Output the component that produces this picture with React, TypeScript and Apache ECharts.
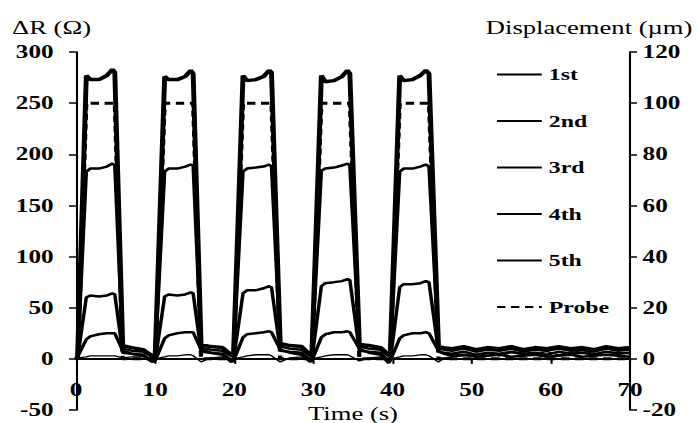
import React, { useEffect, useRef } from 'react';
import * as echarts from 'echarts';

// Time axis (s)
const T = [
  0, 0.2, 1.3, 1.8, 2.9, 3.9, 4.6, 4.9, 5.9, 7.0, 8.5, 9.6,
  10.0, 11.2, 11.7, 12.8, 13.8, 14.5, 14.8, 15.8, 17.0, 18.5, 19.6,
  19.9, 21.1, 21.6, 22.7, 23.7, 24.4, 24.7, 25.8, 27.0, 28.5, 29.6,
  29.8, 31.0, 31.5, 32.6, 33.6, 34.3, 34.6, 35.8, 37.0, 38.5, 39.5,
  39.7, 40.9, 41.4, 42.5, 43.5, 44.2, 44.6, 45.8,
  46.5, 47.5, 49, 50.5, 52, 53.5, 55, 56.5, 58, 59.5, 61, 62.5, 64, 65.5, 67, 68.5, 70,
];

// ΔR (Ω)
const S1 = [
  0, 1, 2, 3, 3, 3, 3, 3, 1, 2, 2, 0,
  0, 2, 3, 3, 4, 4, 3, -3, 1, 2, 0,
  0, 2, 3, 4, 4, 4, 3, -3, 1, 2, 0,
  0, 2, 3, 4, 4, 4, 3, -2, 1, 2, 0,
  0, 2, 3, 3, 4, 4, 3, -3,
  1, 2, 3, 4, 5, 3, 6, 4, 5, 7, 4, 6, 8, 5, 7, 6, 5,
];
const S2 = [
  0, 2, 277, 273, 273, 277, 283, 280, 13, 11, 9, 3,
  3, 276, 273, 273, 276, 282, 279, 14, 12, 11, 4,
  4, 277, 272, 273, 276, 282, 280, 15, 13, 12, 4,
  4, 277, 271, 272, 276, 282, 279, 14, 13, 11, 4,
  4, 277, 272, 273, 277, 282, 279, 12,
  11, 10, 12, 9, 11, 10, 12, 9, 11, 10, 12, 10, 11, 9, 12, 10, 11,
];
const S3 = [
  0, 1, 183, 186, 186, 188, 191, 189, 10, 8, 7, 2,
  2, 183, 186, 186, 188, 190, 189, 11, 9, 8, 3,
  3, 183, 186, 187, 188, 190, 188, 12, 10, 9, 3,
  3, 184, 186, 187, 189, 191, 189, 12, 10, 9, 3,
  3, 183, 186, 186, 188, 190, 188, 10,
  9, 8, 10, 7, 9, 8, 10, 7, 9, 8, 10, 8, 9, 7, 10, 8, 9,
];
const S4 = [
  0, 2, 19, 22, 24, 25, 25, 25, 8, 5, 3, -3,
  -2, 20, 23, 25, 26, 26, 26, 9, 6, 4, -3,
  -2, 21, 24, 25, 26, 27, 26, 9, 6, 4, -3,
  -2, 21, 24, 26, 26, 27, 26, 10, 6, 4, -4,
  -2, 20, 23, 25, 25, 26, 25, 8,
  5, 3, 4, 2, 3, 4, 2, 3, 4, 2, 3, 4, 2, 3, 4, 3, 2,
];
const S5 = [
  0, 1, 60, 62, 61, 62, 64, 63, 6, 5, 4, -2,
  -2, 61, 63, 62, 63, 65, 64, 7, 6, 5, -1,
  -1, 64, 67, 67, 69, 71, 70, 8, 7, 6, -1,
  -1, 71, 74, 75, 76, 78, 77, 8, 7, 6, -2,
  -2, 70, 73, 73, 74, 76, 75, 7,
  6, 5, 7, 4, 6, 5, 7, 5, 6, 4, 7, 5, 6, 4, 7, 5, 6,
];
// Displacement (µm)
const PROBE = [
  0, 0, 100, 100, 100, 100, 100, 100, 0, 0, 0, 0,
  0, 100, 100, 100, 100, 100, 100, 0, 0, 0, 0,
  0, 100, 100, 100, 100, 100, 100, 0, 0, 0, 0,
  0, 100, 100, 100, 100, 100, 100, 0, 0, 0, 0,
  0, 100, 100, 100, 100, 100, 100, 0,
  0, 0, 0, 0, 0, 0, 0, 0, 0, 0, 0, 0, 0, 0, 0, 0, 0,
];

const NAMES = ['1st', '2nd', '3rd', '4th', '5th', 'Probe'];
const X_TICKS = [0, 10, 20, 30, 40, 50, 60, 70];

const SX = 1.4;
const W = 498;
const H = 423;
const FONT = 'Liberation Serif';
const GRID_TOP = 52;
const GRID_BOTTOM = 13;
const Y_MIN = -50;
const Y_MAX = 300;

const pts = (arr: number[]) => T.map((t, i) => [t, arr[i]]);

export default function App() {
  const ref = useRef<HTMLDivElement>(null);
  useEffect(() => {
    document.body.style.margin = '0';
    const chart = echarts.init(ref.current!, null, { renderer: 'svg' });
    const gridH = H - GRID_TOP - GRID_BOTTOM;
    // distance from grid bottom to the zero line, to place the x axis on zero
    const zeroOffset = (gridH * (0 - Y_MIN)) / (Y_MAX - Y_MIN);
    const lineSeries = (name: string, data: number[], width: number, yAxisIndex = 0, type: any = 'solid') => ({
      name,
      type: 'line',
      yAxisIndex,
      data: pts(data),
      symbol: 'none',
      smooth: false,
      lineStyle: { color: '#000', width, type },
      itemStyle: { color: '#000' },
      z: 2,
    });
    const axisLabelStyle = { color: '#000', fontFamily: FONT, fontWeight: 'bold', fontSize: 18 };
    chart.setOption({
      animation: false,
      backgroundColor: '#fff',
      textStyle: { fontFamily: FONT },
      grid: { left: 54.3, right: 48, top: GRID_TOP, bottom: GRID_BOTTOM, containLabel: false, outerBoundsMode: 'none' },
      xAxis: {
        type: 'value',
        min: 0,
        max: 70,
        interval: 10,
        position: 'bottom',
        offset: -zeroOffset,
        name: 'Time (s)',
        nameLocation: 'middle',
        nameGap: 37,
        nameTextStyle: { color: '#000', fontFamily: FONT, fontSize: 19 },
        axisLine: { show: true, onZero: false, lineStyle: { color: '#000', width: 2 } },
        axisTick: { show: true, inside: false, length: 5, lineStyle: { color: '#000', width: 1.5 } },
        axisLabel: { ...axisLabelStyle, margin: 22, formatter: (v: number) => (X_TICKS.includes(v) ? String(v) : '') },
        splitLine: { show: false },
      },
      yAxis: [
        {
          type: 'value',
          min: Y_MIN,
          max: Y_MAX,
          interval: 50,
          position: 'left',
          axisLine: { show: true, onZero: false, lineStyle: { color: '#000', width: 1.5 } },
          axisTick: { show: true, inside: false, length: 5, lineStyle: { color: '#000', width: 1.5 } },
          axisLabel: { ...axisLabelStyle, margin: 16 },
          splitLine: { show: false },
        },
        {
          type: 'value',
          min: -20,
          max: 120,
          interval: 20,
          position: 'right',
          axisLine: { show: true, onZero: false, lineStyle: { color: '#000', width: 1.5 } },
          axisTick: { show: true, inside: false, length: 5, lineStyle: { color: '#000', width: 1.5 } },
          axisLabel: { ...axisLabelStyle, margin: 9 },
          splitLine: { show: false },
        },
      ],
      legend: {
        orient: 'vertical',
        left: 349,
        top: 61,
        itemWidth: 32,
        itemHeight: 14,
        itemGap: 29.5,
        data: NAMES,
        itemStyle: { opacity: 0 },
        textStyle: { color: '#000', fontFamily: FONT, fontWeight: 'bold', fontSize: 17 },
      },
      graphic: [
        {
          type: 'text',
          left: 8.6,
          top: 18,
          style: { text: 'ΔR (Ω)', fill: '#000', font: `19px ${FONT}` },
        },
        {
          type: 'text',
          left: 347,
          top: 18,
          style: { text: 'Displacement (µm)', fill: '#000', font: `19px ${FONT}` },
        },
      ],
      series: [
        lineSeries('1st', S1, 1.3),
        lineSeries('2nd', S2, 3.5),
        lineSeries('3rd', S3, 2.5),
        lineSeries('4th', S4, 2.5),
        lineSeries('5th', S5, 2.5),
        lineSeries('Probe', PROBE, 3, 1, [6, 4]),
      ],
    });
    return () => chart.dispose();
  }, []);
  return (
    <div style={{ position: 'absolute', left: 0, top: 0, width: 697, height: 423, overflow: 'hidden', background: '#fff' }}>
      <div ref={ref} style={{ width: W, height: H, transform: `scaleX(${SX})`, transformOrigin: '0 0' }} />
    </div>
  );
}
